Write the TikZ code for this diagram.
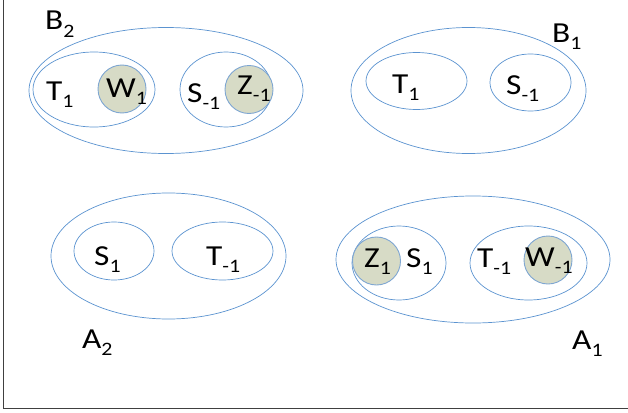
\documentclass[tikz,border=0pt]{standalone}
\usepackage{fontspec}
\usepackage{graphicx}
\setmainfont{Carlito}
\definecolor{eblue}{HTML}{5B93D0}
\definecolor{cfill}{HTML}{D7DBC6}
\definecolor{cedge}{HTML}{7EA6D2}
\definecolor{frame}{HTML}{404040}
\newcommand\lab[2]{\scalebox{1.15}[1]{#1\raisebox{-0.25em}{\fontsize{19}{19}\selectfont #2}}}
\begin{document}
\begin{tikzpicture}[x=1pt,y=-1pt,
  outer/.style={draw=eblue,line width=0.7pt},
  inner/.style={draw=eblue,line width=0.7pt},
  disc/.style={draw=cedge,fill=cfill,line width=0.9pt},
  lbl/.style={anchor=base west,inner sep=0pt,font=\fontsize{29}{33}\selectfont}]
\useasboundingbox (0,0) rectangle (628,412);
\draw[frame,line width=0.9pt] (3,0) -- (3,408.5) -- (628,408.5);
% B2
\draw[outer] (166,90.5) ellipse [x radius=137,y radius=63];
\draw[inner] (94,89.5) ellipse [x radius=61,y radius=37.5];
\draw[disc] (122,89) circle [radius=24];
\draw[inner] (226,89.5) ellipse [x radius=46,y radius=37.5];
\draw[disc] (249,89.5) circle [radius=24];
\node[lbl] (tB2) at (46,100) {\lab{T}{1}};
\node[lbl] (wB2) at (106,97) {\lab{W}{1}};
\node[lbl] (sB2) at (187,102) {\lab{S}{-1}};
\node[lbl] (zB2) at (237,94) {\lab{Z}{-1}};
\node[lbl] (B2) at (45,30) {\lab{B}{2}};
% B1
\draw[outer] (468.5,90.5) ellipse [x radius=117.5,y radius=63];
\draw[inner] (416.5,81) ellipse [x radius=50.5,y radius=28.5];
\draw[inner] (530.5,82.5) ellipse [x radius=40.5,y radius=28.5];
\node[lbl] (tB1) at (392,93) {\lab{T}{1}};
\node[lbl] (sB1) at (506,94) {\lab{S}{-1}};
\node[lbl] (B1) at (552,42) {\lab{B}{1}};
% A2
\draw[outer] (168.5,256) ellipse [x radius=117.5,y radius=63];
\draw[inner] (114,251) ellipse [x radius=40,y radius=29];
\draw[inner] (222.5,251) ellipse [x radius=50.5,y radius=29];
\node[lbl] (sA2) at (94,265) {\lab{S}{1}};
\node[lbl] (tA2) at (206,265) {\lab{T}{-1}};
\node[lbl] (A2) at (82,348) {\lab{A}{2}};
% A1
\draw[outer] (473,259.5) ellipse [x radius=137,y radius=63.5];
\draw[inner] (399,263) ellipse [x radius=47,y radius=37];
\draw[disc] (376.5,261) circle [radius=24];
\draw[inner] (528.5,263) ellipse [x radius=58.5,y radius=37];
\draw[disc] (548,260) circle [radius=24];
\node[lbl] (zA1) at (364,267) {\lab{Z}{1}};
\node[lbl] (sA1) at (406,267) {\lab{S}{1}};
\node[lbl] (tA1) at (477,267) {\lab{T}{-1}};
\node[lbl] (wA1) at (525,266) {\lab{W}{-1}};
\node[lbl] (A1) at (572,349) {\lab{A}{1}};
\end{tikzpicture}
\end{document}
